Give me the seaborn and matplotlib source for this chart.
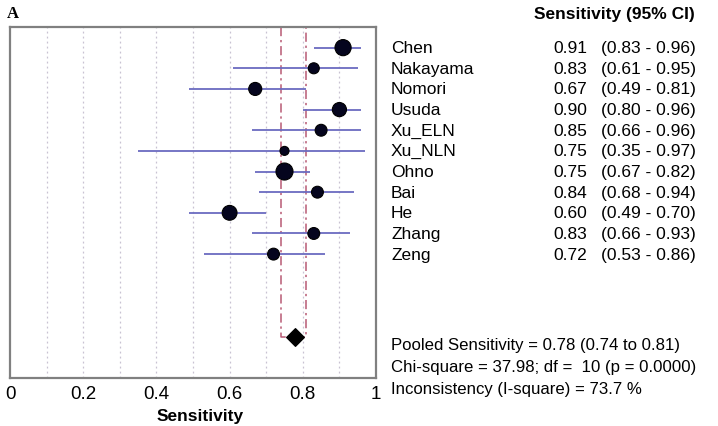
import numpy as np
import pandas as pd
import seaborn as sns
import matplotlib
matplotlib.use("Agg")
from matplotlib import pyplot as plt
from matplotlib.transforms import blended_transform_factory

# study data
studies = ['Chen', 'Nakayama', 'Nomori', 'Usuda', 'Xu_ELN', 'Xu_NLN',
           'Ohno', 'Bai', 'He', 'Zhang', 'Zeng']
sens = [0.91, 0.83, 0.67, 0.90, 0.85, 0.75, 0.75, 0.84, 0.60, 0.83, 0.72]
ci_low = [0.83, 0.61, 0.49, 0.80, 0.66, 0.35, 0.67, 0.68, 0.49, 0.66, 0.53]
ci_high = [0.96, 0.95, 0.81, 0.96, 0.96, 0.97, 0.82, 0.94, 0.70, 0.93, 0.86]
weight = [13.0, 6.0, 8.5, 10.0, 7.0, 4.0, 14.5, 7.0, 11.0, 7.0, 7.0]

pooled = 0.78
pooled_low = 0.74
pooled_high = 0.81
footer = ['Pooled Sensitivity = 0.78 (0.74 to 0.81)',
          'Chi-square = 37.98; df =  10 (p = 0.0000)',
          'Inconsistency (I-square) = 73.7 %']

sns.set_style("white")
plt.rcParams['font.family'] = ['Liberation Sans', 'DejaVu Sans']
plt.rcParams['text.color'] = 'black'
plt.rcParams['xtick.color'] = 'black'
plt.rcParams['axes.labelcolor'] = 'black'

df = pd.DataFrame({'study': studies, 'sens': sens, 'low': ci_low,
                   'high': ci_high, 'weight': weight})
df['row'] = np.arange(len(df))
pooled_row = len(df) + 3

fig = plt.figure(figsize=(7.18, 4.27), dpi=100)
ax = fig.add_axes([10 / 718, 1 - 379 / 427, 366 / 718, 351 / 427])

# grid
for g in np.arange(0.1, 0.95, 0.1):
    ax.axvline(g, color='#c9c2d2', lw=0.9, ls=(0, (1.5, 2.5)), zorder=0)

# pooled CI lines
ax.plot([pooled_low, pooled_low, pooled_high, pooled_high],
        [-1, pooled_row, pooled_row, -1],
        color='#b85a74', lw=1.1, ls=(0, (6, 2.5, 1.5, 2.5)), zorder=1)

# CI bars
ax.hlines(df['row'], df['low'], df['high'], color='#6b6bc0', lw=1.3, zorder=2)

sns.scatterplot(data=df, x='sens', y='row', size='weight', sizes=(42, 150),
                color='#05051e', edgecolor='black', linewidth=0.8,
                legend=False, zorder=3, ax=ax)
ax.scatter([pooled], [pooled_row], marker='D', s=80, color='black', zorder=4)

ax.set_xlim(0, 1)
ax.set_ylim(pooled_row + 2, -1)
ax.set_xticks([0, 0.2, 0.4, 0.6, 0.8, 1])
ax.set_xticklabels(['0', '0.2', '0.4', '0.6', '0.8', '1'])
ax.set_yticks([])
ax.set_ylabel('')
ax.set_xlabel('Sensitivity', fontsize=12.5, fontweight='bold')
ax.xaxis.set_label_coords(190 / 366, -0.085)
ax.tick_params(axis='x', length=0, pad=5, labelsize=13.5)
for sp in ax.spines.values():
    sp.set_color('#808080')
    sp.set_linewidth(1.6)

# right-hand table
tr = blended_transform_factory(fig.transFigure, ax.transData)
for i, r in df.iterrows():
    ax.text(391 / 718, r['row'], r['study'], transform=tr, fontsize=12.5,
            va='center', ha='left', clip_on=False)
    ax.text(587 / 718, r['row'], f"{r['sens']:.2f}", transform=tr,
            fontsize=12.5, va='center', ha='right', clip_on=False)
    ax.text(601 / 718, r['row'], f"({r['low']:.2f} - {r['high']:.2f})",
            transform=tr, fontsize=12.5, va='center', ha='left', clip_on=False)

for k, line in enumerate(footer):
    ax.text(391 / 718, pooled_row + 0.4 + k * 1.05, line, transform=tr,
            fontsize=12.1, va='center', ha='left', clip_on=False)

fig.text(614 / 718, 1 - 15 / 427, 'Sensitivity (95% CI)', fontsize=12.5,
         fontweight='bold', ha='center', va='center')
fig.text(7 / 718, 1 - 14 / 427, 'A', fontsize=12, fontweight='bold',
         family='Liberation Serif', ha='left', va='center')

fig.savefig('out.png', dpi=100)
